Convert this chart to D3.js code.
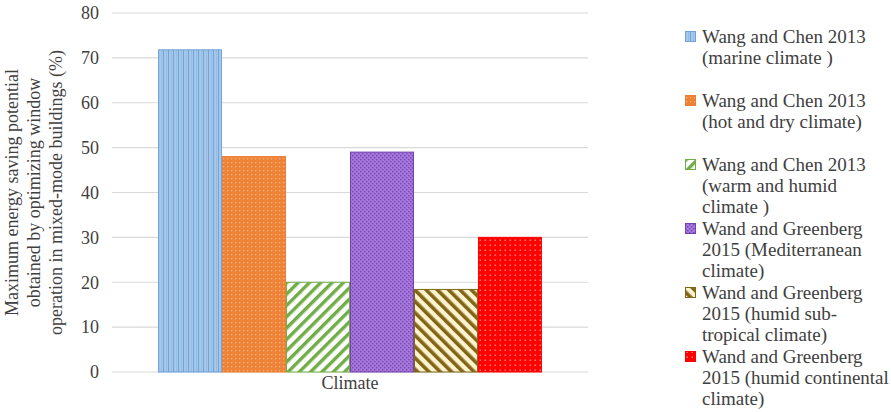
<!DOCTYPE html>
<html><head><meta charset="utf-8"><script src="https://cdn.jsdelivr.net/npm/d3@7/dist/d3.min.js"></script></head>
<body style="margin:0">
<svg id="s" width="891" height="412"></svg>
<script>
// Chart data
const categories = ["Climate"];
const seriesLabels = [
  ["Wang and Chen 2013", "(marine climate  )"],
  ["Wang and Chen 2013", "(hot and dry climate)"],
  ["Wang and Chen 2013", "(warm and humid", "climate )"],
  ["Wand and Greenberg", "2015 (Mediterranean", "climate)"],
  ["Wand and Greenberg", "2015 (humid sub-", "tropical climate)"],
  ["Wand and Greenberg", "2015 (humid continental", "climate)"]
];
const seriesValues = [71.8, 48, 20, 49, 18.4, 30];
const yTicks = [0, 10, 20, 30, 40, 50, 60, 70, 80];
const yTitle = [
  "Maximum energy saving potential",
  "obtained by optimizing window",
  "operation in mixed-mode buildings (%)"
];

const FONT = "'Liberation Serif'";
const TEXT = "#404040";
const svg = d3.select("#s");
const margin = { left: 112, right: 303, top: 13, bottom: 40 };
const W = 891, H = 412;
const plotW = W - margin.left - margin.right;
const plotH = H - margin.top - margin.bottom;

// Fill patterns for each series
const defs = svg.append("defs");
function pat(id, w, h, bg, draw) {
  const p = defs.append("pattern").attr("id", id)
    .attr("patternUnits", "userSpaceOnUse").attr("width", w).attr("height", h);
  p.append("rect").attr("width", w).attr("height", h).attr("fill", bg);
  draw(p);
}
// narrow vertical lines
pat("p0", 5, 5, "#A6C8EA", p => {
  p.append("rect").attr("x", 0).attr("width", 1).attr("height", 5).attr("fill", "#6FA2D8");
  p.append("rect").attr("x", 3).attr("width", 0.6).attr("height", 5).attr("fill", "#86B2E0");
});
// small light dots
pat("p1", 4, 4, "#EE8236", p => {
  p.append("rect").attr("x", 1).attr("y", 1).attr("width", 1.3).attr("height", 1.3).attr("fill", "#F6B27E");
});
// wide downward diagonal
pat("p2", 8, 8, "#ffffff", p => {
  p.attr("patternTransform", "rotate(45)");
  p.append("rect").attr("x", 0).attr("width", 3.4).attr("height", 8).attr("fill", "#70AD47");
});
// small grid
pat("p3", 4, 4, "#A679DB", p => {
  p.append("rect").attr("x", 0).attr("y", 0).attr("width", 1.4).attr("height", 1.4).attr("fill", "#7441B2");
  p.append("rect").attr("x", 2).attr("y", 2).attr("width", 1.4).attr("height", 1.4).attr("fill", "#7441B2");
});
// wide upward diagonal
pat("p4", 8, 8, "#FFF3CF", p => {
  p.attr("patternTransform", "rotate(-45)");
  p.append("rect").attr("x", 0).attr("width", 3.6).attr("height", 8).attr("fill", "#7F6515");
});
// light dots on red
pat("p5", 5, 5, "#FF0000", p => {
  p.append("rect").attr("x", 1.5).attr("y", 1.5).attr("width", 1.5).attr("height", 1.5).attr("fill", "#FF7A7A");
});
const fills = ["url(#p0)", "url(#p1)", "url(#p2)", "url(#p3)", "url(#p4)", "url(#p5)"];
const strokes = ["#6FA2D8", "#ED7D31", "#70AD47", "#7441B2", "#7F6515", "#FF0000"];

const g = svg.append("g").attr("transform", `translate(${margin.left},${margin.top})`);

const y = d3.scaleLinear().domain([0, 80]).range([plotH, 0]);
const x0 = d3.scaleBand().domain(categories).range([0, plotW]).paddingInner(0).paddingOuter(0.12);
const x1 = d3.scaleBand().domain(d3.range(seriesValues.length)).range([0, x0.bandwidth()]).padding(0);

// gridlines
g.append("g").selectAll("line").data(yTicks).join("line")
  .attr("x1", 0).attr("x2", plotW)
  .attr("y1", d => y(d)).attr("y2", d => y(d))
  .attr("stroke", "#D9D9D9").attr("stroke-width", 1.2);

// y axis labels
const yAxis = d3.axisLeft(y).tickValues(yTicks).tickSize(0).tickPadding(13);
const ya = g.append("g").call(yAxis).attr("font-family", FONT).attr("font-size", 18);
ya.select(".domain").remove();
ya.selectAll("text").attr("fill", TEXT);

// bars
const cat = g.append("g").attr("transform", `translate(${x0(categories[0])},0)`);
cat.selectAll("rect").data(seriesValues).join("rect")
  .attr("x", (d, i) => x1(i) + 0.5)
  .attr("width", x1.bandwidth() - 1)
  .attr("y", d => y(d))
  .attr("height", d => y(0) - y(d))
  .attr("fill", (d, i) => fills[i])
  .attr("stroke", (d, i) => strokes[i])
  .attr("stroke-width", 1);

// x axis category label
const xAxis = d3.axisBottom(x0).tickSize(0).tickPadding(4);
const xa = g.append("g").attr("transform", `translate(0,${plotH})`).call(xAxis)
  .attr("font-family", FONT).attr("font-size", 18);
xa.select(".domain").remove();
xa.selectAll("text").attr("fill", TEXT);

// y axis title
const yt = svg.append("text")
  .attr("transform", `translate(18,${margin.top + plotH / 2}) rotate(-90)`)
  .attr("text-anchor", "middle").attr("font-family", FONT).attr("font-size", 18)
  .attr("fill", TEXT);
yt.selectAll("tspan").data(yTitle).join("tspan")
  .attr("x", 0).attr("dy", (d, i) => i === 0 ? 0 : 22).text(d => d);

// legend
const lg = svg.append("g").attr("transform", "translate(685,0)");
const lineH = 21, entryGap = 64, firstY = 37;
seriesLabels.forEach((lines, i) => {
  const yy = firstY + i * entryGap;
  lg.append("rect").attr("x", 0.5).attr("y", yy - 5.5).attr("width", 10).attr("height", 10)
    .attr("fill", fills[i]).attr("stroke", strokes[i]).attr("stroke-width", 1);
  const t = lg.append("text").attr("x", 17).attr("y", yy + 6)
    .attr("font-family", FONT).attr("font-size", 19).attr("fill", TEXT);
  lines.forEach((s, k) => {
    t.append("tspan").attr("x", 17).attr("dy", k === 0 ? 0 : lineH).text(s);
  });
});
</script></body></html>
